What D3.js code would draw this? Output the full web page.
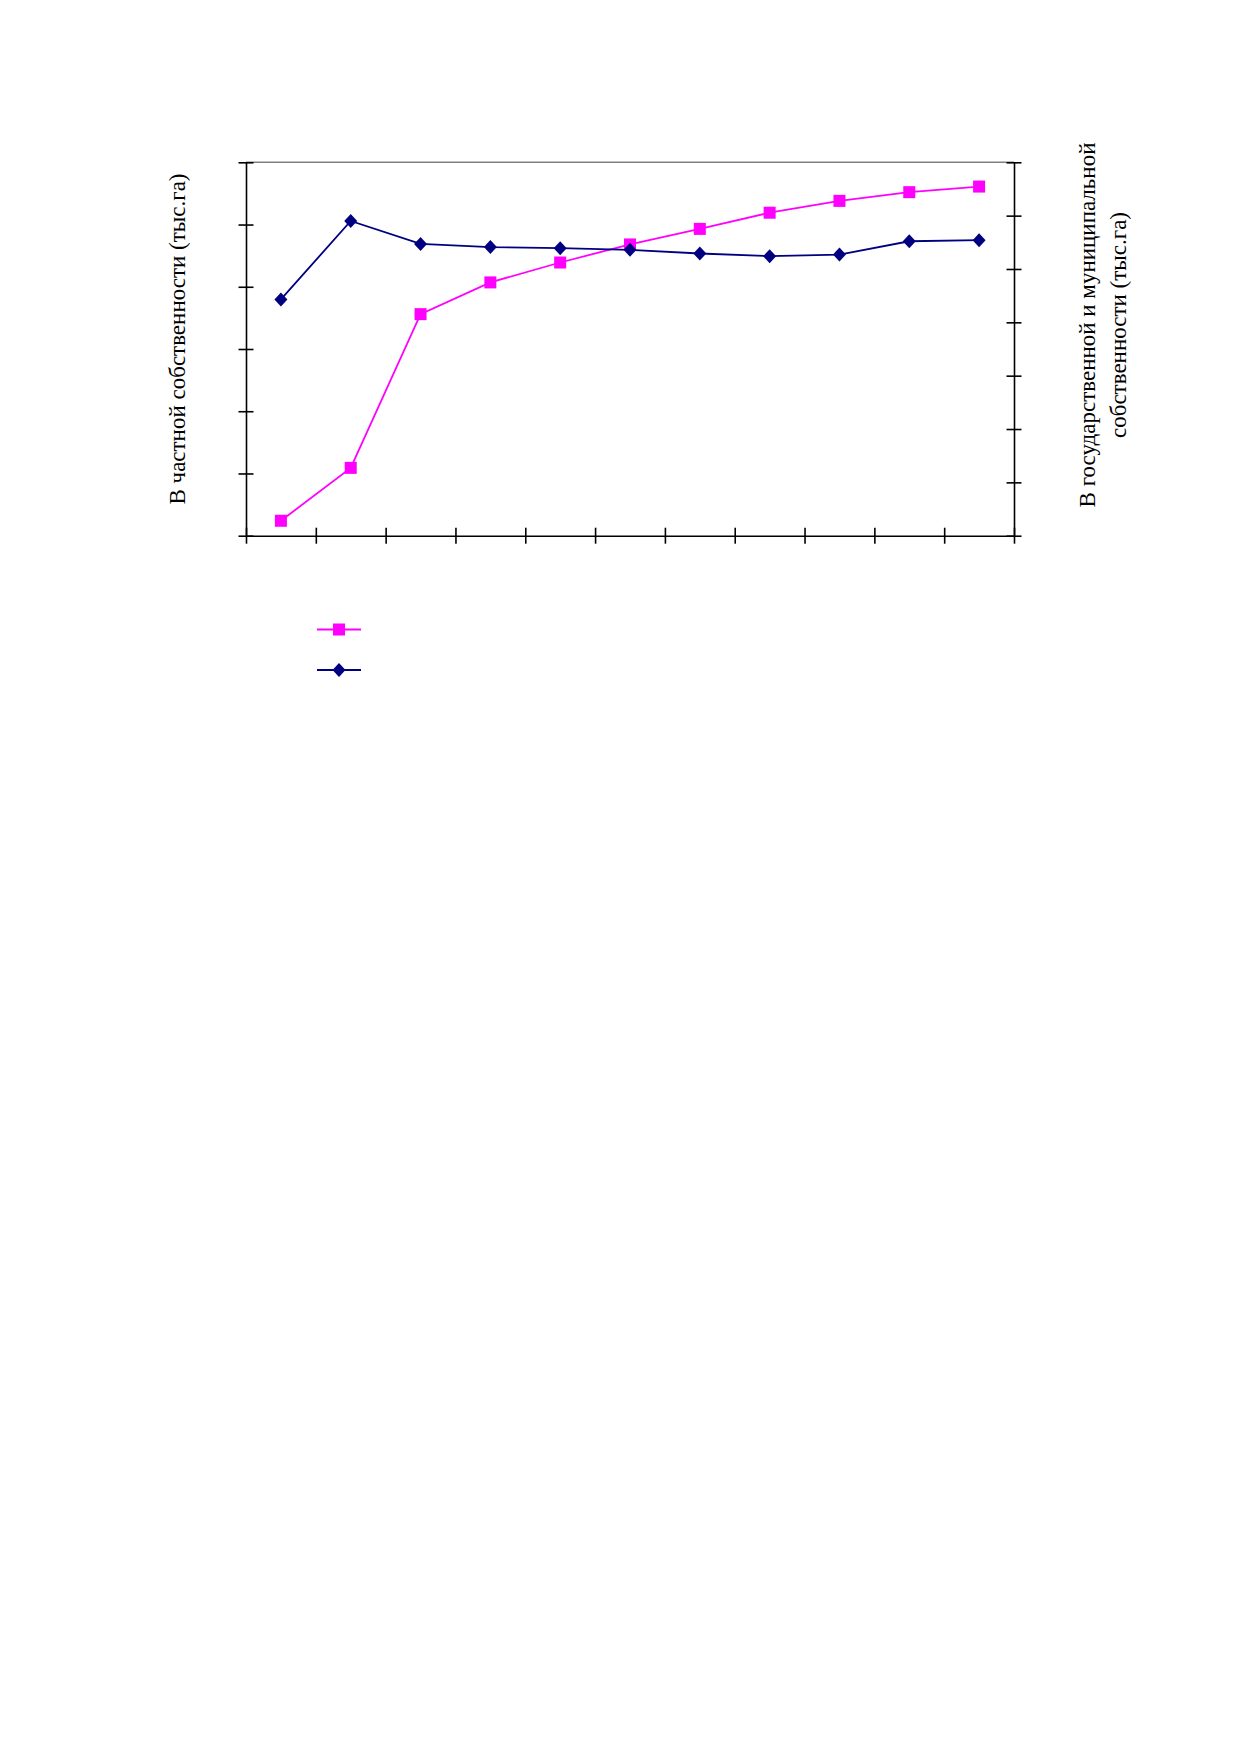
<!DOCTYPE html>
<html>
<head>
<meta charset="utf-8">
<script src="https://cdn.jsdelivr.net/npm/d3@7/dist/d3.min.js"></script>
<style>
  html, body { margin: 0; padding: 0; background: #fff; }
  text { font-family: "Liberation Serif", "Times New Roman", serif; }
</style>
</head>
<body>
<svg id="chart" width="1239" height="1754"></svg>
<script>
// categories (no labels are printed on the axis)
const categories = ["1", "2", "3", "4", "5", "6", "7", "8", "9", "10", "11"];
// private land, left axis (in tick units)
const privateLand = [0.24, 1.09, 3.56, 4.07, 4.39, 4.68, 4.93, 5.19, 5.38, 5.52, 5.61];
// state and municipal land, right axis (in tick units)
const stateLand = [4.43, 5.90, 5.47, 5.41, 5.39, 5.36, 5.29, 5.24, 5.27, 5.52, 5.54];
const leftTicks = [0, 1, 2, 3, 4, 5, 6];
const rightTicks = [0, 1, 2, 3, 4, 5, 6, 7];
const leftTitle = "В частной собственности (тыс.га)";
const rightTitle = ["В государственной и муниципальной", "собственности (тыс.га)"];

const svg = d3.select("#chart");
const plotL = 246, plotR = 1014, plotT = 162.3, plotB = 535.7;

// x: edges of each category slot, points sit in the middle
const xEdge = d3.scaleLinear().domain([0, categories.length]).range([plotL, plotR]);
const yLeft = d3.scaleLinear().domain([0, 6]).range([plotB, plotT]);
const yRight = d3.scaleLinear().domain([0, 7]).range([plotB, plotT]);

// top border of plot
svg.append("line")
  .attr("x1", plotL).attr("x2", plotR)
  .attr("y1", plotT).attr("y2", plotT)
  .attr("stroke", "#808080").attr("stroke-width", 1.5);

// axes
let gx = svg.append("g")
  .attr("transform", "translate(0," + plotB + ")")
  .call(d3.axisBottom(xEdge).tickValues(d3.range(categories.length + 1)).tickFormat("").tickSizeOuter(0));
gx.selectAll(".tick line").attr("y1", -8).attr("y2", 8);

let gl = svg.append("g")
  .attr("transform", "translate(" + plotL + ",0)")
  .call(d3.axisLeft(yLeft).tickValues(leftTicks).tickFormat("").tickSizeOuter(0));
gl.selectAll(".tick line").attr("x1", -7.5).attr("x2", 7.5);

let gr = svg.append("g")
  .attr("transform", "translate(" + plotR + ",0)")
  .call(d3.axisRight(yRight).tickValues(rightTicks).tickFormat("").tickSizeOuter(0));
gr.selectAll(".tick line").attr("x1", -7.5).attr("x2", 7.5);

svg.selectAll(".domain, .tick line").attr("stroke", "#000").attr("stroke-width", 1.6);

const px = (d, i) => xEdge(i + 0.5);

// lines
svg.append("path")
  .datum(privateLand)
  .attr("fill", "none").attr("stroke", "#ff00ff").attr("stroke-width", 1.8)
  .attr("d", d3.line().x(px).y(d => yLeft(d)));

svg.append("path")
  .datum(stateLand)
  .attr("fill", "none").attr("stroke", "#000080").attr("stroke-width", 1.8)
  .attr("d", d3.line().x(px).y(d => yRight(d)));

// markers
const diamond = "M0,-7L6.5,0L0,7L-6.5,0Z";
svg.selectAll(".sq")
  .data(privateLand)
  .enter().append("rect")
  .attr("class", "sq")
  .attr("x", (d, i) => px(d, i) - 6)
  .attr("y", d => yLeft(d) - 6)
  .attr("width", 12).attr("height", 12)
  .attr("fill", "#ff00ff");

svg.selectAll(".dm")
  .data(stateLand)
  .enter().append("path")
  .attr("class", "dm")
  .attr("d", diamond)
  .attr("transform", (d, i) => "translate(" + px(d, i) + "," + yRight(d) + ")")
  .attr("fill", "#000080");

// axis titles
svg.append("text")
  .attr("transform", "translate(184.5,339) rotate(-90)")
  .attr("text-anchor", "middle")
  .attr("font-size", 23)
  .text(leftTitle);

svg.append("text")
  .attr("transform", "translate(1094.5,325) rotate(-90)")
  .attr("text-anchor", "middle")
  .attr("font-size", 23)
  .text(rightTitle[0]);
svg.append("text")
  .attr("transform", "translate(1125.5,325) rotate(-90)")
  .attr("text-anchor", "middle")
  .attr("font-size", 23)
  .text(rightTitle[1]);

// legend (keys only, as in the source)
const legend = svg.append("g");
legend.append("line").attr("x1", 317).attr("x2", 361).attr("y1", 629.5).attr("y2", 629.5)
  .attr("stroke", "#ff00ff").attr("stroke-width", 1.8);
legend.append("rect").attr("x", 333).attr("y", 623.5).attr("width", 12).attr("height", 12)
  .attr("fill", "#ff00ff");
legend.append("line").attr("x1", 317).attr("x2", 361).attr("y1", 670).attr("y2", 670)
  .attr("stroke", "#000080").attr("stroke-width", 1.8);
legend.append("path").attr("d", diamond).attr("transform", "translate(339,670)")
  .attr("fill", "#000080");
</script>
</body>
</html>
